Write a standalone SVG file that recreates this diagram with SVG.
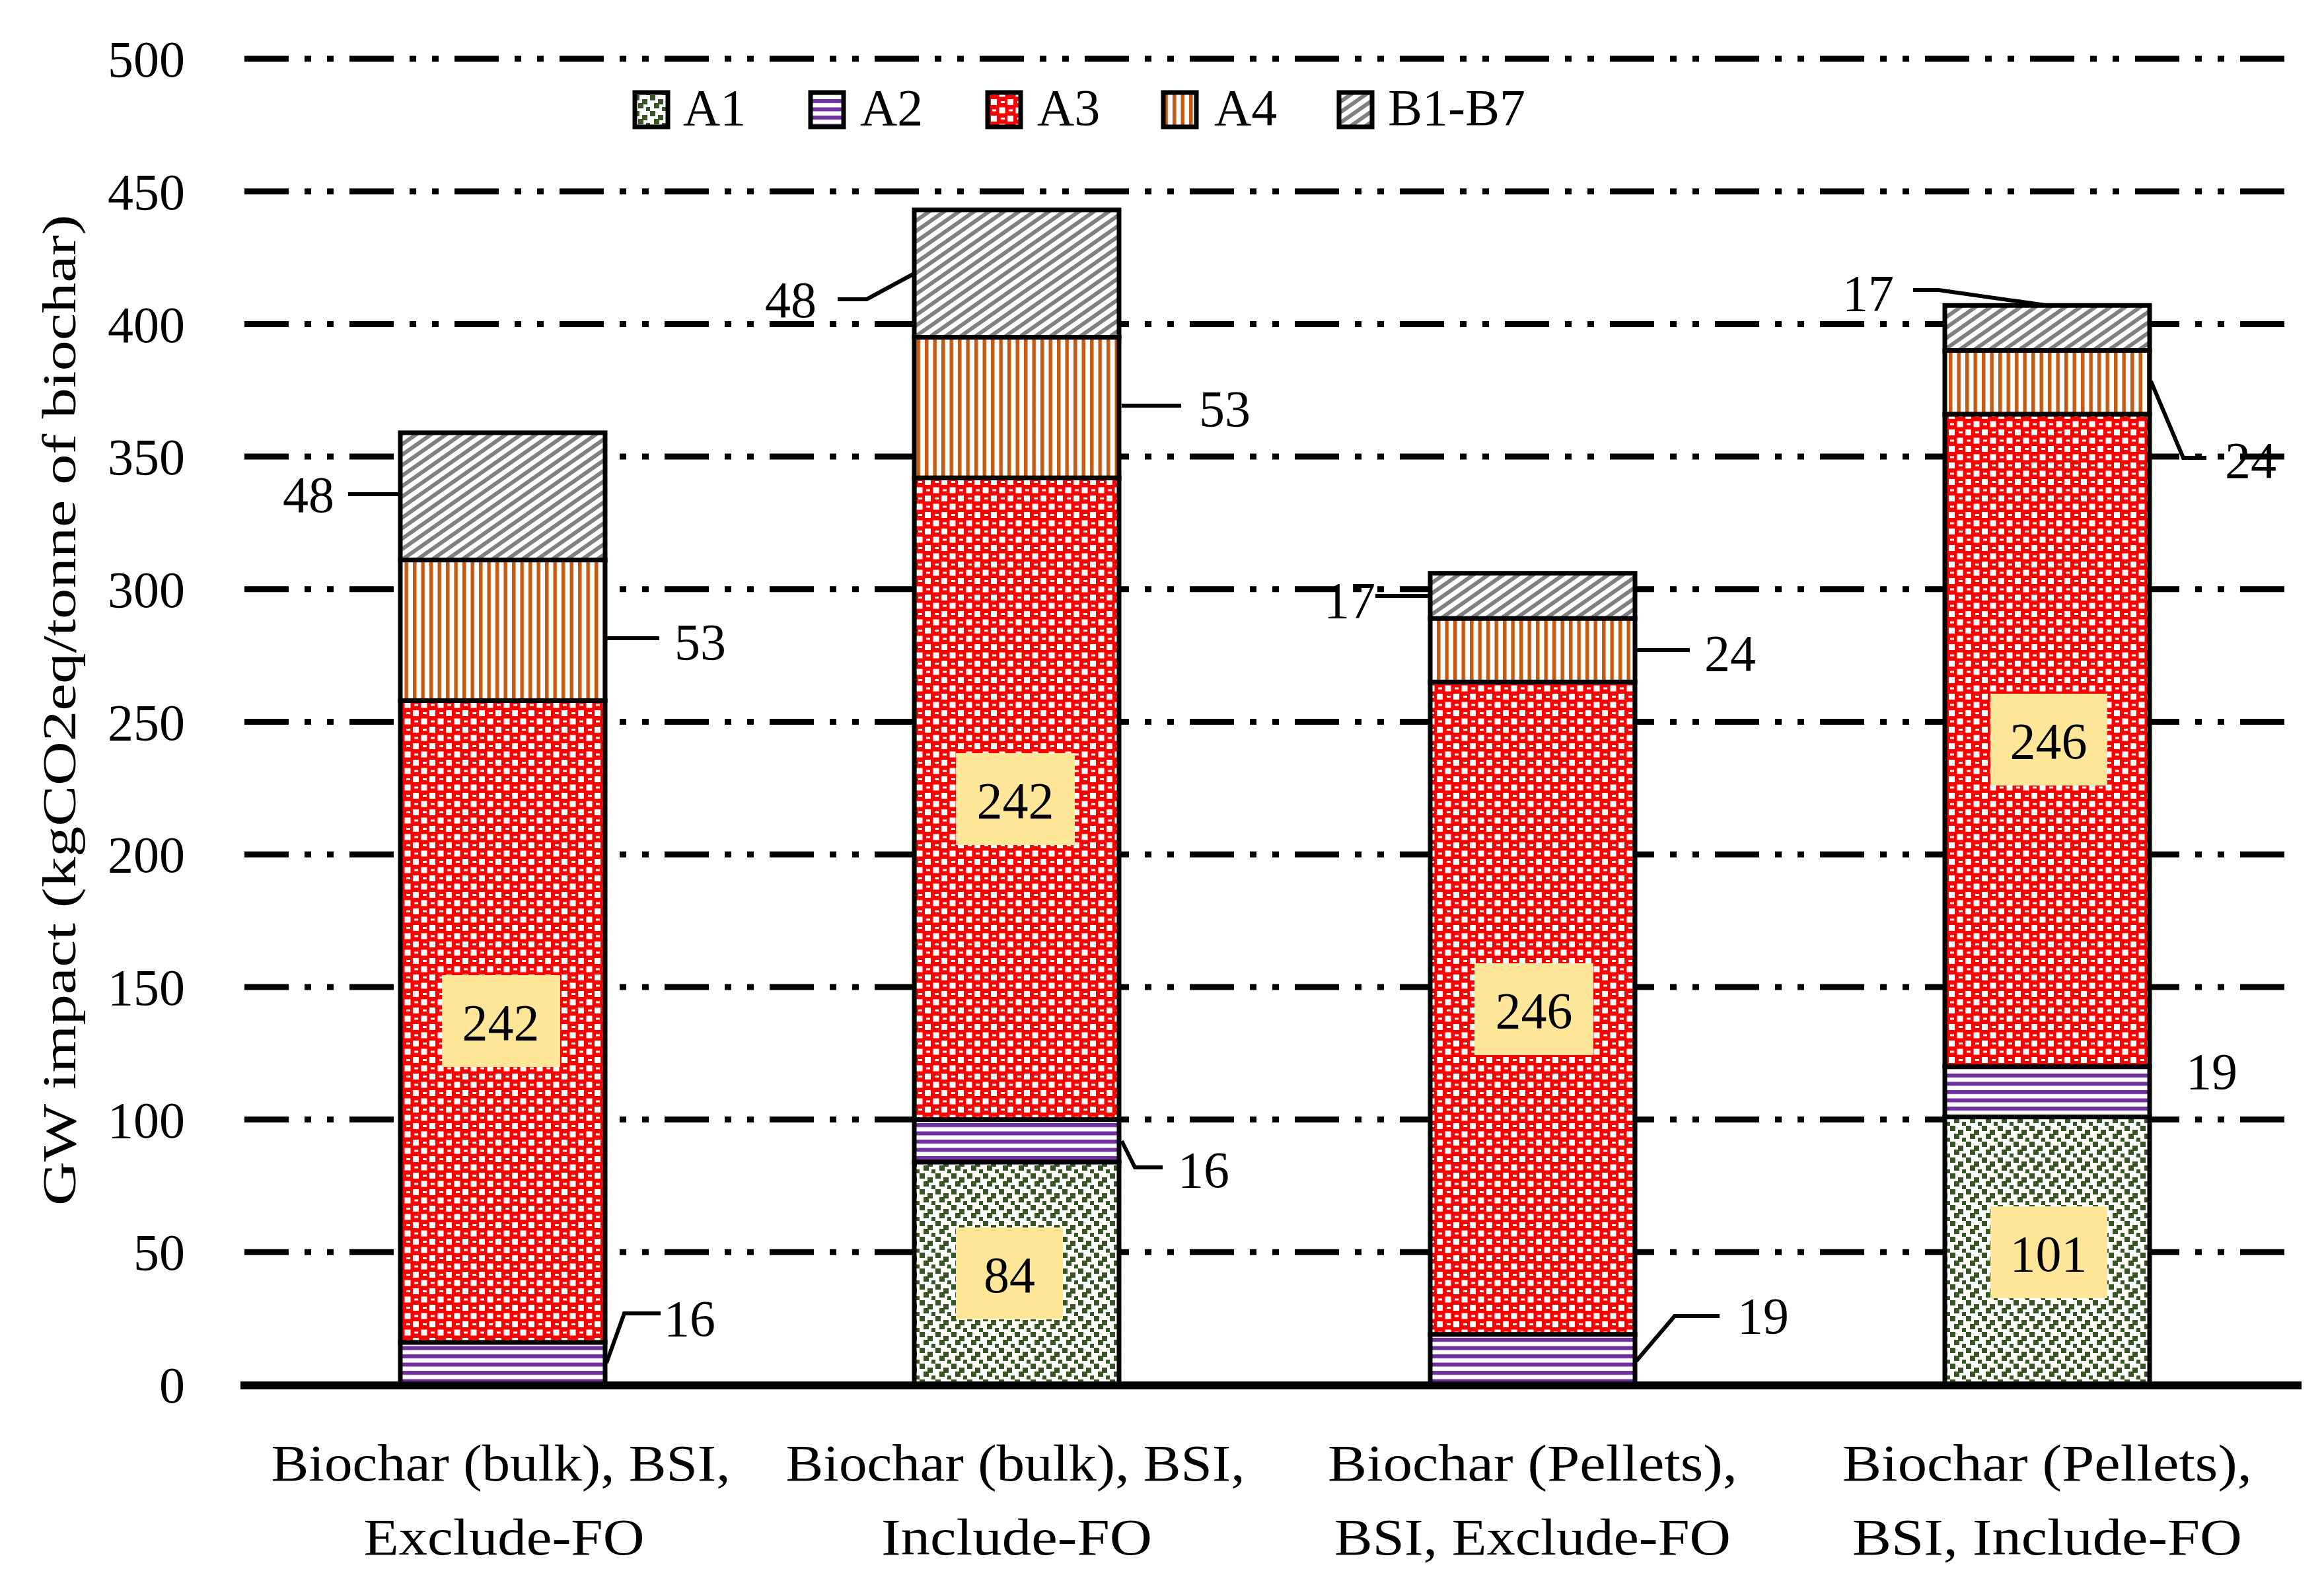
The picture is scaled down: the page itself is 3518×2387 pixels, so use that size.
<svg xmlns="http://www.w3.org/2000/svg" width="3518" height="2387" viewBox="0 0 3518 2387">
<style>
text{font-family:"Liberation Serif","Times New Roman",serif;fill:#000}
.t{font-size:78px}
.tick{font-size:78px;text-anchor:end}
.c{text-anchor:middle}
.grid{stroke:#000;stroke-width:9;stroke-dasharray:67 24 10 24 10 24}
.seg{stroke:#000;stroke-width:7}
.lead{fill:none;stroke:#000;stroke-width:6}
.box{fill:#ffe699}
</style>
<defs>
<pattern id="pA1" width="24" height="24" patternUnits="userSpaceOnUse">
<rect width="24" height="24" fill="#fff"/>
<rect x="0" y="0" width="8" height="8" fill="#375623"/>
<rect x="12" y="6" width="8" height="8" fill="#375623"/>
<rect x="6" y="12" width="8" height="8" fill="#375623"/>
<rect x="18" y="18" width="6" height="6" fill="#375623"/>
</pattern>
<pattern id="pA2" width="12.5" height="12.5" patternUnits="userSpaceOnUse">
<rect width="12.5" height="12.5" fill="#fff"/>
<rect y="0" width="12.5" height="6" fill="#7030a0"/>
</pattern>
<pattern id="pA3" width="25" height="25" patternUnits="userSpaceOnUse">
<rect width="25" height="25" fill="#ff0000"/>
<rect x="0" y="0" width="9" height="9" fill="#fff"/>
<rect x="12.5" y="12.5" width="9" height="9" fill="#fff"/>
<rect x="15" y="3" width="6" height="3" fill="#fff"/>
<rect x="2" y="15.5" width="6" height="3" fill="#fff"/>
</pattern>
<pattern id="pA4" width="12.5" height="12.5" patternUnits="userSpaceOnUse">
<rect width="12.5" height="12.5" fill="#fff"/>
<rect x="0" width="5.5" height="12.5" fill="#c55a11"/>
</pattern>
<pattern id="pB" width="13" height="13" patternUnits="userSpaceOnUse" patternTransform="rotate(-35)">
<rect width="13" height="13" fill="#fff"/>
<rect width="13" height="6" fill="#808080"/>
</pattern>
</defs>
<rect width="3518" height="2387" fill="#fff"/>

<g id="axes">
<line class="grid" x1="370" y1="1895.3" x2="3478" y2="1895.3"/>
<line class="grid" x1="370" y1="1694.6" x2="3478" y2="1694.6"/>
<line class="grid" x1="370" y1="1493.9" x2="3478" y2="1493.9"/>
<line class="grid" x1="370" y1="1293.2" x2="3478" y2="1293.2"/>
<line class="grid" x1="370" y1="1092.5" x2="3478" y2="1092.5"/>
<line class="grid" x1="370" y1="891.8" x2="3478" y2="891.8"/>
<line class="grid" x1="370" y1="691.1" x2="3478" y2="691.1"/>
<line class="grid" x1="370" y1="490.4" x2="3478" y2="490.4"/>
<line class="grid" x1="370" y1="289.7" x2="3478" y2="289.7"/>
<line class="grid" x1="370" y1="89" x2="3478" y2="89"/>
<text class="tick" x="280" y="2123">0</text>
<text class="tick" x="280" y="1922">50</text>
<text class="tick" x="280" y="1722">100</text>
<text class="tick" x="280" y="1521">150</text>
<text class="tick" x="280" y="1320">200</text>
<text class="tick" x="280" y="1120">250</text>
<text class="tick" x="280" y="919">300</text>
<text class="tick" x="280" y="718">350</text>
<text class="tick" x="280" y="518">400</text>
<text class="tick" x="280" y="317">450</text>
<text class="tick" x="280" y="116">500</text>
<text class="c" font-size="72" x="0" y="0" transform="translate(114,1075) rotate(-90)" textLength="1500" lengthAdjust="spacingAndGlyphs">GW impact (kgCO2eq/tonne of biochar)</text>
<text class="t c" x="758" y="2241" textLength="695" lengthAdjust="spacingAndGlyphs">Biochar (bulk), BSI,</text>
<text class="t c" x="763" y="2353" textLength="425" lengthAdjust="spacingAndGlyphs">Exclude-FO</text>
<text class="t c" x="1537" y="2241" textLength="695" lengthAdjust="spacingAndGlyphs">Biochar (bulk), BSI,</text>
<text class="t c" x="1539" y="2353" textLength="410" lengthAdjust="spacingAndGlyphs">Include-FO</text>
<text class="t c" x="2320" y="2241" textLength="620" lengthAdjust="spacingAndGlyphs">Biochar (Pellets),</text>
<text class="t c" x="2320" y="2353" textLength="600" lengthAdjust="spacingAndGlyphs">BSI, Exclude-FO</text>
<text class="t c" x="3099" y="2241" textLength="620" lengthAdjust="spacingAndGlyphs">Biochar (Pellets),</text>
<text class="t c" x="3099" y="2353" textLength="590" lengthAdjust="spacingAndGlyphs">BSI, Include-FO</text>
</g>

<g id="legend">
<rect class="seg" x="961" y="140" width="50" height="52" fill="url(#pA1)"/>
<text class="t" x="1034" y="189">A1</text>
<rect class="seg" x="1227" y="140" width="50" height="52" fill="url(#pA2)"/>
<text class="t" x="1302" y="189">A2</text>
<rect class="seg" x="1495" y="140" width="50" height="52" fill="url(#pA3)"/>
<text class="t" x="1570" y="189">A3</text>
<rect class="seg" x="1761" y="140" width="50" height="52" fill="url(#pA4)"/>
<text class="t" x="1838" y="189">A4</text>
<rect class="seg" x="2027" y="140" width="50" height="52" fill="url(#pB)"/>
<text class="t" x="2101" y="189">B1-B7</text>
</g>

<g id="bar1">
<rect class="seg" x="606" y="2031.8" width="310" height="64.2" fill="url(#pA2)"/>
<rect class="seg" x="606" y="1060.4" width="310" height="971.4" fill="url(#pA3)"/>
<rect class="seg" x="606" y="847.6" width="310" height="212.8" fill="url(#pA4)"/>
<rect class="seg" x="606" y="655" width="310" height="192.6" fill="url(#pB)"/>
<rect class="box" x="669" y="1476" width="179" height="139"/>
<text class="t c" x="758" y="1574">242</text>
</g>
<g id="bar2">
<rect class="seg" x="1384" y="1758.8" width="310" height="337.2" fill="url(#pA1)"/>
<rect class="seg" x="1384" y="1694.6" width="310" height="64.2" fill="url(#pA2)"/>
<rect class="seg" x="1384" y="723.2" width="310" height="971.4" fill="url(#pA3)"/>
<rect class="seg" x="1384" y="510.5" width="310" height="212.7" fill="url(#pA4)"/>
<rect class="seg" x="1384" y="317.8" width="310" height="192.7" fill="url(#pB)"/>
<rect class="box" x="1447" y="1858" width="162" height="139"/>
<text class="t c" x="1528" y="1956">84</text>
<rect class="box" x="1447" y="1140" width="180" height="139"/>
<text class="t c" x="1537" y="1238">242</text>
</g>
<g id="bar3">
<rect class="seg" x="2165" y="2019.7" width="310" height="76.3" fill="url(#pA2)"/>
<rect class="seg" x="2165" y="1032.3" width="310" height="987.4" fill="url(#pA3)"/>
<rect class="seg" x="2165" y="936" width="310" height="96.3" fill="url(#pA4)"/>
<rect class="seg" x="2165" y="867.7" width="310" height="68.3" fill="url(#pB)"/>
<rect class="box" x="2232" y="1458" width="180" height="139"/>
<text class="t c" x="2322" y="1556">246</text>
</g>
<g id="bar4">
<rect class="seg" x="2944" y="1690.6" width="310" height="405.4" fill="url(#pA1)"/>
<rect class="seg" x="2944" y="1614.3" width="310" height="76.3" fill="url(#pA2)"/>
<rect class="seg" x="2944" y="626.9" width="310" height="987.4" fill="url(#pA3)"/>
<rect class="seg" x="2944" y="530.5" width="310" height="96.4" fill="url(#pA4)"/>
<rect class="seg" x="2944" y="462.3" width="310" height="68.2" fill="url(#pB)"/>
<rect class="box" x="3013" y="1826" width="177" height="139"/>
<text class="t c" x="3101" y="1924">101</text>
<rect class="box" x="3013" y="1050" width="177" height="139"/>
<text class="t c" x="3101" y="1148">246</text>
</g>

<line x1="364" y1="2097" x2="3484" y2="2097" stroke="#000" stroke-width="12"/>

<g id="connectors">
<polyline class="lead" points="527,748 606,748"/>
<polyline class="lead" points="916,966 998,966"/>
<polyline class="lead" points="918,2063 945,1988 1000,1988"/>
<polyline class="lead" points="1268,453 1312,453 1384,414"/>
<polyline class="lead" points="1698,614 1788,614"/>
<polyline class="lead" points="1698,1727 1718,1767 1760,1767"/>
<polyline class="lead" points="2082,902 2165,902"/>
<polyline class="lead" points="2475,984 2558,984"/>
<polyline class="lead" points="2477,2060 2535,1992 2603,1992"/>
<polyline class="lead" points="2896,439 2935,439 3096,462"/>
<polyline class="lead" points="3256,577 3305,693 3340,693"/>
</g>

<g id="labels">
<text class="t" x="428" y="775">48</text>
<text class="t" x="1021" y="998">53</text>
<text class="t" x="1005" y="2022">16</text>
<text class="t" x="1158" y="480">48</text>
<text class="t" x="1815" y="645">53</text>
<text class="t" x="1783" y="1797">16</text>
<text class="t" x="2004" y="935">17</text>
<text class="t" x="2580" y="1015">24</text>
<text class="t" x="2630" y="2018">19</text>
<text class="t" x="2789" y="470">17</text>
<text class="t" x="3368" y="723">24</text>
<text class="t" x="3309" y="1648">19</text>
</g>
</svg>
